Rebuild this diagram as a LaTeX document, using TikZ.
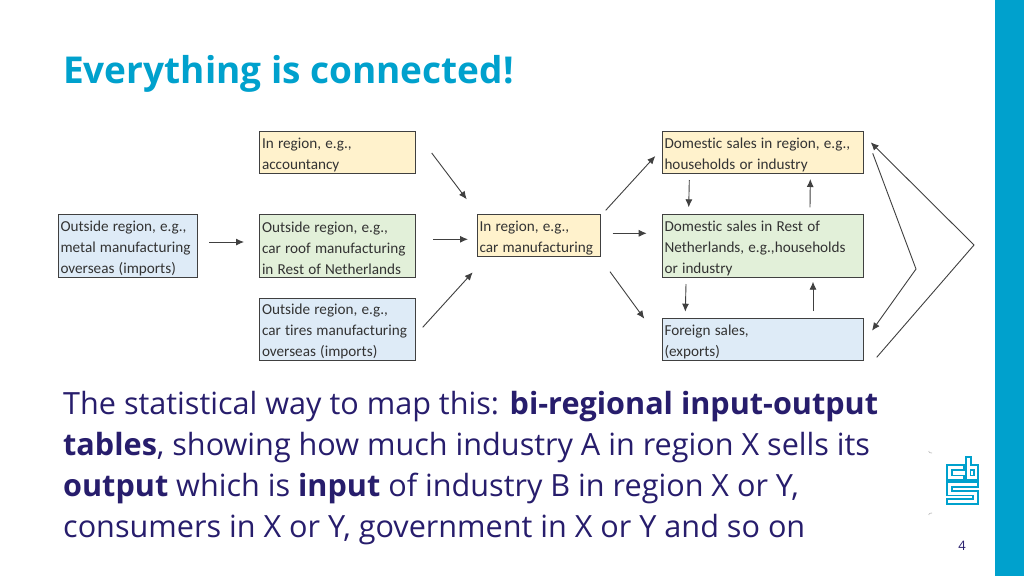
\documentclass[tikz,border=0pt]{standalone}
\usepackage{fontspec}
\usetikzlibrary{arrows.meta}
\setmainfont{Carlito}[RawFeature={-liga;-clig}]
\newfontfamily\slidefont{Open Sans}
\definecolor{cbsblue}{HTML}{00A1CD}
\definecolor{bodyblue}{HTML}{271D6C}
\definecolor{fillyellow}{HTML}{FFF2CC}
\definecolor{fillgreen}{HTML}{E2F0D9}
\definecolor{fillblue}{HTML}{DEEBF7}
\tikzset{
  box/.style={draw=black!75,line width=0.9pt,inner sep=0pt,outer sep=0pt,anchor=north west,font=\fontsize{15.2}{20.8}\selectfont,text=black!80,align=left},
  flow/.style={draw=black!75,line width=0.9pt,-{Latex[length=8pt,width=7pt]}},
  logo/.style={draw=cbsblue,line width=1.3pt,line join=miter},
  para/.style={anchor=base west,inner sep=0pt,text=bodyblue,font=\slidefont\fontsize{30.6}{40}\selectfont}
}
\newcommand{\boxtext}[3]{\parbox[c][#2pt][c]{#1pt}{\vspace*{5pt}\leftskip=2.5pt\spaceskip=4.2pt\relax #3}}
\begin{document}
\begin{tikzpicture}[x=1pt,y=-1pt]
\useasboundingbox (0,0) rectangle (1024,576);
\fill[white] (0,0) rectangle (1024,576);
\fill[cbsblue] (995,0) rectangle (1024,576);
\node[anchor=base west,inner sep=0pt,text=cbsblue,font=\slidefont\fontsize{37}{44}\selectfont\bfseries] (title) at (63,83) {Everything is connected!};

\node[box,fill=fillyellow] (topin) at (259.5,131.5) {\boxtext{156}{41.5}{In region, e.g.,\\accountancy}};
\node[box,fill=fillblue] (leftout) at (58,214.5) {\boxtext{139.5}{62.5}{Outside region, e.g.,\\metal manufacturing\\overseas (imports)}};
\node[box,fill=fillgreen] (midout) at (259.5,214.5) {\boxtext{156}{62.5}{Outside region, e.g.,\\car roof manufacturing\\in Rest of Netherlands}};
\node[box,fill=fillblue] (botout) at (259.5,298) {\boxtext{156}{62}{Outside region, e.g.,\\car tires manufacturing\\overseas (imports)}};
\node[box,fill=fillyellow] (car) at (477,214.5) {\boxtext{123}{42}{In region, e.g.,\\car manufacturing}};
\node[box,fill=fillyellow] (domreg) at (662,131.5) {\boxtext{201.5}{41.5}{Domestic sales in region, e.g.,\\households or industry}};
\node[box,fill=fillgreen] (domrest) at (662,214.5) {\boxtext{201.5}{62.5}{Domestic sales in Rest of\\Netherlands, e.g.,households\\or industry}};
\node[box,fill=fillblue] (foreign) at (662,318.5) {\boxtext{201.5}{41.5}{Foreign sales,\\(exports)}};

\coordinate (apexA) at (974,245);
\coordinate (apexB) at (916,269);

\draw[flow] ([xshift=11.5pt,yshift=3.75pt]leftout.east) -- ([xshift=-15.5pt,yshift=3.75pt]midout.west);
\draw[flow] ([xshift=16.2pt,yshift=-0.75pt]topin.east) -- ([xshift=-10.3pt,yshift=15.2pt]car.north west);
\draw[flow] ([xshift=17.5pt,yshift=6.45pt]midout.east) -- ([xshift=-9pt,yshift=-3.8pt]car.west);
\draw[flow] ([xshift=7.2pt,yshift=1.7pt]botout.east) -- ([xshift=-4.3pt,yshift=-15.8pt]car.south west);
\draw[flow] ([xshift=5.7pt,yshift=4.2pt]car.north east) -- ([xshift=-6.7pt,yshift=-3.75pt]domreg.west);
\draw[flow] ([xshift=12.7pt,yshift=2.2pt]car.east) -- ([xshift=-15.3pt,yshift=12.45pt]domrest.west);
\draw[flow] ([xshift=10pt,yshift=-15.2pt]car.south east) -- ([xshift=-17.7pt,yshift=-0.2pt]foreign.north west);
\draw[flow] ([xshift=27.3pt,yshift=-7pt]domreg.south west) -- ([xshift=26.7pt,yshift=7.2pt]domrest.north west);
\draw[flow] ([xshift=24pt,yshift=-7pt]domrest.south west) -- ([xshift=23.3pt,yshift=6.8pt]foreign.north west);
\draw[flow] ([xshift=-53.5pt,yshift=7.2pt]domrest.north east) -- ([xshift=-53.2pt,yshift=-6pt]domreg.south east);
\draw[flow] ([xshift=-50.5pt,yshift=7.5pt]foreign.north east) -- ([xshift=-50.5pt,yshift=-4.7pt]domrest.south east);
\draw[flow] ([xshift=13.2pt,yshift=2.7pt]foreign.south east) -- (apexA) -- ([xshift=7.2pt,yshift=-10.8pt]domreg.north east);
\draw[flow] ([xshift=9.2pt,yshift=-21.8pt]domreg.north east) -- (apexB) -- ([xshift=8.5pt,yshift=-12.2pt]foreign.north east);

\node[para] (l1) at (63,414) {The statistical way to map this: \textbf{bi-regional input-output}};
\node[para] (l2) at (63,455) {\textbf{tables}, showing how much industry A in region X sells its};
\node[para] (l3) at (63,496) {\textbf{output} which is \textbf{input} of industry B in region X or Y,};
\node[para] (l4) at (63,537) {consumers in X or Y, government in X or Y and so on};

\node[anchor=base,inner sep=0pt,text=bodyblue,font=\slidefont\fontsize{13}{16}\selectfont] (pagenum) at (962,550) {4};

% logo
\draw[logo] (964,465) -- (947,465) -- (947,480) -- (964,480) -- (964,475.5) -- (952,475.5) -- (952,470) -- (964,470) -- cycle;
\draw[logo] (966,457) -- (971,457) -- (971,465) -- (978,465) -- (978,480) -- (966,480) -- cycle;
\draw[logo] (970.5,470) rectangle (974,475.5);
\draw[logo] (947,482) -- (978,482) -- (978,487) -- (952,487) -- (952,491) -- (978,491) -- (978,504) -- (947,504) -- (947,499) -- (973,499) -- (973,495.5) -- (947,495.5) -- cycle;
\draw[black!25,line width=0.7pt] (932,453) arc (70:170:2.5);
\draw[black!25,line width=0.7pt] (932,513) arc (-70:-170:2.5);
\end{tikzpicture}
\end{document}
